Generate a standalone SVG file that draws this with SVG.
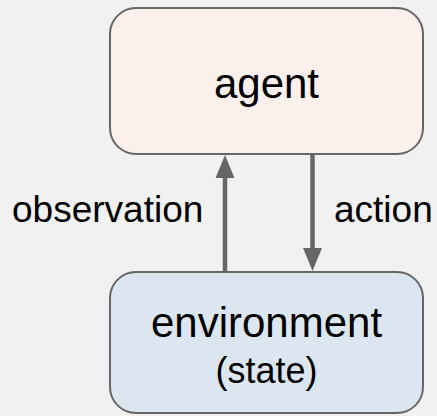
<svg xmlns="http://www.w3.org/2000/svg" width="437" height="416" viewBox="0 0 437 416">
  <style>
    .box { stroke: #666666; stroke-width: 2; }
    .txt { font-family: "Liberation Sans", Arial, sans-serif; fill: #000000; }
    .link { stroke: #666666; stroke-width: 4.5; fill: none; }
  </style>
  <defs>
    <!-- arrowhead starts where the shaft stops, so the shaft never shows past the tip -->
    <marker id="head" markerUnits="userSpaceOnUse" markerWidth="24" markerHeight="20" refX="0" refY="9.5" orient="auto" overflow="visible">
      <path d="M0,0 L23,9.5 L0,19 Z" fill="#666666"/>
    </marker>
  </defs>
  <rect width="437" height="416" fill="#f1f1f1"/>
  <g id="agent">
    <rect class="box" x="110" y="8" width="313" height="146" rx="26" fill="#fbf0eb"/>
    <text class="txt" x="266.5" y="98" font-size="42" text-anchor="middle">agent</text>
  </g>
  <g id="environment">
    <rect class="box" x="110" y="272" width="313" height="141" rx="26" fill="#dce6f0"/>
    <text class="txt" x="266.5" y="337" font-size="42" text-anchor="middle">environment</text>
    <text class="txt" x="266.5" y="383" font-size="36" text-anchor="middle">(state)</text>
  </g>
  <g id="connectors">
    <line class="link" x1="225" y1="271" x2="225" y2="178" marker-end="url(#head)"/>
    <line class="link" x1="312.5" y1="155" x2="312.5" y2="248" marker-end="url(#head)"/>
    <text class="txt" x="12" y="222" font-size="37">observation</text>
    <text class="txt" x="334" y="222" font-size="37">action</text>
  </g>
</svg>
